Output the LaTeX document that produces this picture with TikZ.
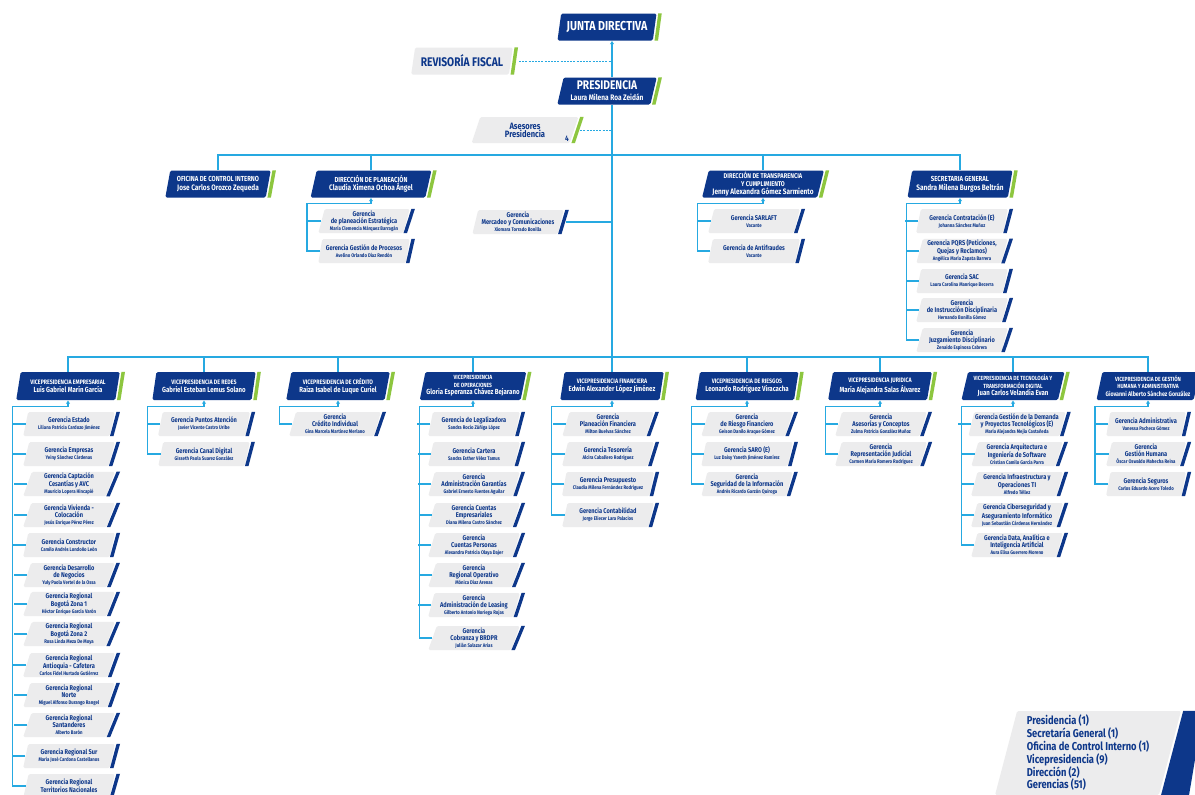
\documentclass[tikz,border=0pt]{standalone}
\usepackage{fontspec}
\setmainfont{Fira Sans}[FakeStretch=0.82]
\usetikzlibrary{shapes.geometric,arrows.meta}
\definecolor{navy}{RGB}{13,55,138}
\definecolor{accent}{RGB}{141,198,63}
\definecolor{boxgray}{RGB}{236,236,237}
\definecolor{linkblue}{RGB}{38,169,225}
\newcommand{\pname}[1]{{\fontsize{5.2}{5.6}\selectfont #1}}
\newcommand{\hname}[1]{{\fontsize{7.4}{8}\selectfont #1}}
\newcommand{\dname}[1]{{\fontsize{7.9}{8.4}\selectfont #1}}

\begin{document}
\begin{tikzpicture}[x=1pt,y=-1pt]
    \tikzstyle{box}=[trapezium, trapezium left angle=76, trapezium right angle=104, trapezium stretches=true, inner sep=1pt, align=center, rounded corners=1.5pt]
    \tikzstyle{head}=[box, fill=navy, text=white, minimum width=104, minimum height=28, font=\fontsize{6.4}{8}\selectfont\bfseries]
    \tikzstyle{head3}=[head, font=\fontsize{6}{7.4}\selectfont\bfseries]
    \tikzstyle{dir head}=[head, minimum height=27, font=\fontsize{7.3}{8.6}\selectfont\bfseries]
    \tikzstyle{big head}=[head, minimum width=100, minimum height=27, font=\fontsize{13}{13}\selectfont\bfseries]
    \tikzstyle{note}=[box, fill=boxgray, text=navy, font=\fontsize{12.5}{13}\selectfont\bfseries]
    \tikzstyle{ger}=[box, fill=boxgray, text=navy, minimum width=92, minimum height=24, font=\fontsize{6.9}{7}\selectfont\bfseries]
    \tikzstyle{link}=[draw=linkblue, line width=1.3pt]
    \tikzstyle{dotlink}=[link, line width=1pt, dash pattern=on 2pt off 1.2pt]
    \tikzstyle{uparrow}=[{Latex[length=3.5pt,width=4.5pt]}-]

    \useasboundingbox (0,0) rectangle (1195,795);
    \clip (0,0) rectangle (1195,795);
    \fill[white] (0,0) rectangle (1195,795);

    % Top of the chart
    \node[big head] (jd) at (607,27) {JUNTA DIRECTIVA};
    \node[big head, font=\fontsize{12.5}{11}\selectfont\bfseries] (pres) at (607,91) {PRESIDENCIA\\{\fontsize{8}{8}\selectfont Laura Milena Roa Zeidán}};
    \node[note, minimum width=102, minimum height=27] (rf) at (462,61) {REVISORÍA FISCAL};
    \node[note, minimum width=107, minimum height=26, font=\fontsize{9.2}{7.8}\selectfont\bfseries] (ase) at (525,130) {Asesores\\Presidencia};
    \node[text=navy, inner sep=0pt, font=\fontsize{8}{8}\selectfont\bfseries] (ase-n) at (567,139) {4};

    % Second level
    \node[dir head, minimum width=106] (oci) at (218,184) {OFICINA DE CONTROL INTERNO\\\dname{Jose Carlos Orozco Zequeda}};
    \node[dir head, minimum width=122] (dplan) at (371,184) {DIRECCIÓN DE PLANEACIÓN\\\dname{Claudia Ximena Ochoa Ángel}};
    \node[dir head, minimum width=122, font=\fontsize{6.9}{7.6}\selectfont\bfseries] (dtc) at (763,184) {DIRECCIÓN DE TRANSPARENCIA\\Y CUMPLIMIENTO\\\dname{Jenny Alexandra Gómez Sarmiento}};
    \node[dir head, minimum width=106] (sg) at (960,184) {SECRETARIA GENERAL\\\dname{Sandra Milena Burgos Beltrán}};

    \node[ger] (dp1) at (364,221) {Gerencia\\de planeación Estratégica\\\pname{María Clemencia Márquez Barragán}};
    \node[ger] (dp2) at (364,251) {Gerencia Gestión de Procesos\\\pname{Avelino Orlando Díaz Rendón}};
    \node[ger] (mc) at (518,222) {Gerencia\\Mercadeo y Comunicaciones\\\pname{Xiomara Torrado Bonilla}};
    \node[ger] (tc1) at (754,221) {Gerencia SARLAFT\\\pname{Vacante}};
    \node[ger] (tc2) at (754,251) {Gerencia de Antifraudes\\\pname{Vacante}};
    \node[ger] (sc1) at (962,221) {Gerencia Contratación (E)\\\pname{Johanna Sánchez Muñoz}};
    \node[ger] (sc2) at (962,251) {Gerencia PQRS (Peticiones,\\Quejas y Reclamos)\\\pname{Angélica María Zapata Barrera}};
    \node[ger] (sc3) at (962,281) {Gerencia SAC\\\pname{Laura Carolina Manrique Becerra}};
    \node[ger] (sc4) at (962,310) {Gerencia\\de Instrucción Disciplinaria\\\pname{Hernando Bonilla Gómez}};
    \node[ger] (sc5) at (962,340) {Gerencia\\Juzgamiento Disciplinario\\\pname{Zenaido Espinosa Cabrera}};

    % Vicepresidencias
    \node[head] (vpemp) at (68,386) {VICEPRESIDENCIA EMPRESARIAL\\\hname{Luis Gabriel Marín García}};
    \node[head] (vpred) at (204,386) {VICEPRESIDENCIA DE REDES\\\hname{Gabriel Esteban Lemus Solano}};
    \node[head] (vpcre) at (338,386) {VICEPRESIDENCIA DE CRÉDITO\\\hname{Raiza Isabel de Luque Curiel}};
    \node[head3] (vpope) at (473,386) {VICEPRESIDENCIA\\DE OPERACIONES\\\hname{Gloria Esperanza Chávez Bejarano}};
    \node[head] (vpfin) at (612,386) {VICEPRESIDENCIA FINANCIERA\\\hname{Edwin Alexander López Jiménez}};
    \node[head] (vprie) at (747,386) {VICEPRESIDENCIA DE RIESGOS\\\hname{Leonardo Rodríguez Viracacha}};
    \node[head] (vpjur) at (880,386) {VICEPRESIDENCIA JURIDICA\\\hname{María Alejandra Salas Álvarez}};
    \node[head3] (vptec) at (1013,386) {VICEPRESIDENCIA DE TECNOLOGÍA Y\\TRANSFORMACIÓN DIGITAL\\\hname{Juan Carlos Velandia Evan}};
    \node[head3] (vpgh) at (1148,386) {VICEPRESIDENCIA DE GESTIÓN\\HUMANA Y ADMINISTRATIVA\\{\fontsize{6.5}{8}\selectfont Giovanni Alberto Sánchez González}};

    % Gerencias under each vicepresidencia
    \node[ger] (e1) at (69,424) {Gerencia Estado\\\pname{Liliana Patricia Cardozo Jiménez}};
    \node[ger] (e2) at (69,454) {Gerencia Empresas\\\pname{Yeiny Sánchez Cárdenas}};
    \node[ger] (e3) at (69,484) {Gerencia Captación\\Cesantías y AVC\\\pname{Mauricio Lopera Hincapié}};
    \node[ger] (e4) at (69,515) {Gerencia Vivienda -\\Colocación\\\pname{Jesús Enrique Pérez Pérez}};
    \node[ger] (e5) at (69,545) {Gerencia Constructor\\\pname{Camilo Andrés Londoño León}};
    \node[ger] (e6) at (69,575) {Gerencia Desarrollo\\de Negocios\\\pname{Yuly Paola Vertel de la Ossa}};
    \node[ger] (e7) at (69,604) {Gerencia Regional\\Bogotá Zona 1\\\pname{Héctor Enrique García Varón}};
    \node[ger] (e8) at (69,634) {Gerencia Regional\\Bogotá Zona 2\\\pname{Rosa Linda Meza De Moya}};
    \node[ger] (e9) at (69,665) {Gerencia Regional\\Antioquia - Cafetera\\\pname{Carlos Fidel Hurtado Gutiérrez}};
    \node[ger] (e10) at (69,695) {Gerencia Regional\\Norte\\\pname{Miguel Alfonso Durango Rangel}};
    \node[ger] (e11) at (69,725) {Gerencia Regional\\Santanderes\\\pname{Alberto Barón}};
    \node[ger] (e12) at (69,756) {Gerencia Regional Sur\\\pname{María José Cardona Castellanos}};
    \node[ger] (e13) at (69,786) {Gerencia Regional\\Territorios Nacionales};

    \node[ger] (rd1) at (204,424) {Gerencia Puntos Atención\\\pname{Javier Vicente Castro Uribe}};
    \node[ger] (rd2) at (204,454) {Gerencia Canal Digital\\\pname{Gisseth Paola Suarez González}};

    \node[ger] (cr1) at (335,424) {Gerencia\\Crédito Individual\\\pname{Gina Marcela Martínez Merlano}};

    \node[ger] (op1) at (474,424) {Gerencia de Legalizadora\\\pname{Sandra Rocío Zúñiga López}};
    \node[ger] (op2) at (474,454) {Gerencia Cartera\\\pname{Sandra Esther Vélez Tamus}};
    \node[ger] (op3) at (474,484) {Gerencia\\Administración Garantías\\\pname{Gabriel Ernesto Fuentes Aguilar}};
    \node[ger] (op4) at (474,515) {Gerencia Cuentas\\Empresariales\\\pname{Diana Milena Castro Sánchez}};
    \node[ger] (op5) at (474,545) {Gerencia\\Cuentas Personas\\\pname{Alexandra Patricia Olaya Dajer}};
    \node[ger] (op6) at (474,575) {Gerencia\\Regional Operativo\\\pname{Mónica Díaz Arenas}};
    \node[ger] (op7) at (474,605) {Gerencia\\Administración de Leasing\\\pname{Gilberto Antonio Noriega Rojas}};
    \node[ger] (op8) at (474,638) {Gerencia\\Cobranza y BRDPR\\\pname{Julián Salazar Arias}};

    \node[ger] (fi1) at (608,424) {Gerencia\\Planeación Financiera\\\pname{Milton Buelvas Sánchez}};
    \node[ger] (fi2) at (608,454) {Gerencia Tesorería\\\pname{Alcira Caballero Rodríguez}};
    \node[ger] (fi3) at (608,484) {Gerencia Presupuesto\\\pname{Claudia Milena Fernández Rodríguez}};
    \node[ger] (fi4) at (608,515) {Gerencia Contabilidad\\\pname{Jorge Eliecer Lara Palacios}};

    \node[ger] (ri1) at (747,424) {Gerencia\\de Riesgo Financiero\\\pname{Geison Danilo Araque Gómez}};
    \node[ger] (ri2) at (747,454) {Gerencia SARO (E)\\\pname{Luz Daisy Yaneth Jiménez Ramírez}};
    \node[ger] (ri3) at (747,484) {Gerencia\\Seguridad de la Información\\\pname{Andrés Ricardo Garzón Quiroga}};

    \node[ger] (ju1) at (881,424) {Gerencia\\Asesorías y Conceptos\\\pname{Zulma Patricia González Muñoz}};
    \node[ger] (ju2) at (881,454) {Gerencia\\Representación Judicial\\\pname{Carmen María Romero Rodríguez}};

    \node[ger] (te1) at (1017,424) {Gerencia Gestión de la Demanda\\y Proyectos Tecnológicos (E)\\\pname{María Alejandra Mejía Castañeda}};
    \node[ger] (te2) at (1017,454) {Gerencia Arquitectura e\\Ingeniería de Software\\\pname{Cristian Camilo García Parra}};
    \node[ger] (te3) at (1017,484) {Gerencia Infraestructura y\\Operaciones TI\\\pname{Alfredo Téllez}};
    \node[ger] (te4) at (1017,515) {Gerencia Ciberseguridad y\\Aseguramiento Informático\\\pname{Juan Sebastián Cárdenas Hernández}};
    \node[ger] (te5) at (1017,545) {Gerencia Data, Analítica e\\Inteligencia Artificial\\\pname{Aura Elisa Guerrero Moreno}};

    \node[ger, minimum width=80] (gh1) at (1146,424) {Gerencia Administrativa\\\pname{Vanessa Pacheco Gómez}};
    \node[ger, minimum width=80] (gh2) at (1146,454) {Gerencia\\Gestión Humana\\\pname{Óscar Oswaldo Mahecha Reina}};
    \node[ger, minimum width=80] (gh3) at (1146,484) {Gerencia Seguros\\\pname{Carlos Eduardo Acero Toledo}};

    % Summary
    \node[note, minimum width=186, minimum height=84, align=left, font=\fontsize{11.4}{12.8}\selectfont\bfseries] (legend) at (1088,753) {Presidencia (1)\\Secretaría General (1)\\Oficina de Control Interno (1)\\Vicepresidencia (9)\\Dirección (2)\\Gerencias (51)};
    \fill[navy] ([xshift=2pt]legend.top right corner) -- ++(20,0) -- ([xshift=30pt]legend.bottom right corner) -- ([xshift=2pt]legend.bottom right corner) -- cycle;

    % Color strips
    \foreach \n in {jd,pres,rf,ase,oci,dplan,dtc,sg,vpemp,vpred,vpcre,vpope,vpfin,vprie,vpjur,vptec,vpgh}
        \fill[accent] ([xshift=1.5pt]\n.top right corner) -- ([xshift=5pt]\n.top right corner) -- ([xshift=5pt]\n.bottom right corner) -- ([xshift=1.5pt]\n.bottom right corner) -- cycle;
    \fill[navy] ([xshift=1.5pt]mc.top right corner) -- ([xshift=5pt]mc.top right corner) -- ([xshift=3.5pt]mc.bottom right corner) -- (mc.bottom right corner) -- cycle;
    \foreach \g/\k in {e/13,rd/2,cr/1,op/8,fi/4,ri/3,ju/2,te/5,gh/3,dp/2,tc/2,sc/5}
        \foreach \i in {1,...,\k}
            \fill[navy] ([xshift=1.5pt]\g\i.top right corner) -- ([xshift=5pt]\g\i.top right corner) -- ([xshift=3.5pt]\g\i.bottom right corner) -- (\g\i.bottom right corner) -- cycle;

    % Main lines
    \coordinate (bus-a) at (612,155);
    \coordinate (bus-b) at (612,357);
    \draw[link,uparrow] (vpfin.north |- jd.south) -- (vpfin.north |- pres.north);
    \draw[link] (vpfin.north |- pres.south) -- (vpfin.north);
    \draw[dotlink] ([xshift=8pt]rf.east) -- (rf.east -| vpfin.north);
    \draw[dotlink] ([xshift=6pt]ase.east) -- (ase.east -| vpfin.north);
    \draw[link] ([xshift=5pt]mc.east) -- (mc.east -| vpfin.north);
    \draw[link] (oci.north) |- (bus-a) -| (sg.north);
    \draw[link] (dplan.north) -- (dplan.north |- bus-a);
    \draw[link] (dtc.north) -- (dtc.north |- bus-a);
    \draw[link] (vpemp.north) |- (bus-b) -| (vpgh.north);
    \foreach \n in {vpred,vpcre,vpope,vprie,vpjur,vptec}
        \draw[link] (\n.north) -- (\n.north |- bus-b);

    % Brackets to the gerencias
    \foreach \g/\p/\k in {e/vpemp/13,rd/vpred/2,cr/vpcre/1,op/vpope/8,fi/vpfin/4,ri/vprie/3,ju/vpjur/2,te/vptec/5,gh/vpgh/3,dp/dplan/2,tc/dtc/2,sc/sg/5}
    {
        \draw[link,uparrow] (\p.south) -- ++(0,6) -| ([xshift=-13pt]\g\k.west) -- (\g\k.west);
        \foreach \i in {1,...,\k}
            \draw[link] (\g\i.west) -- ++(-13,0);
    }
\end{tikzpicture}
\end{document}
